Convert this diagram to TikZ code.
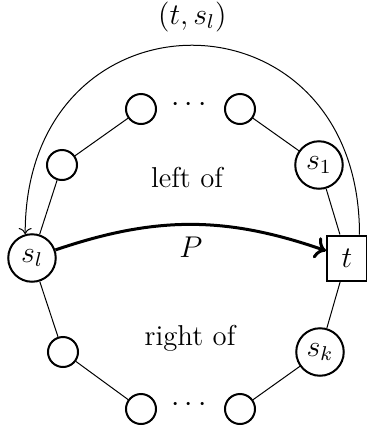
\documentclass[tikz,border=0pt]{standalone}
\usetikzlibrary{arrows.meta}
\begin{document}
\begin{tikzpicture}[x=0.4pt,y=-0.4pt,font=\fontsize{11.5}{14}\selectfont,
  vtx/.style={circle,draw,line width=0.8pt,minimum size=12pt,inner sep=0pt},
  lvtx/.style={circle,draw,line width=0.8pt,minimum size=19pt,inner sep=0pt},
  term/.style={rectangle,draw,line width=0.8pt,minimum width=16pt,minimum height=18pt,inner sep=0pt},
  edge/.style={line width=0.4pt}]
\useasboundingbox (0,0) rectangle (367,428);
\node[lvtx] (sl) at (32,258) {$s_l$};
\node[term] (t) at (347,258) {$t$};
\node[vtx] (a1) at (62,165) {};
\node[vtx] (a2) at (141,109) {};
\node[vtx] (a3) at (240,109) {};
\node[lvtx] (s1) at (319,165) {$s_1$};
\node[vtx] (b1) at (63,352) {};
\node[vtx] (b2) at (141,409) {};
\node[vtx] (b3) at (240,409) {};
\node[lvtx] (sk) at (320,352) {$s_k$};
\node (d1) at (189,105) {$\cdots$};
\node (d2) at (189,405) {$\cdots$};
\node (lo) at (187,178) {left of};
\node (ro) at (190,338) {right of};
\draw[edge] (sl) -- (a1) -- (a2);
\draw[edge] (a3) -- (s1) -- (t) -- (sk) -- (b3);
\draw[edge] (b2) -- (b1) -- (sl);
\draw[->,line width=1.2pt] (sl) to[bend left=19] node[below=1pt] (P) {$P$} (t);
\draw[->,edge] (t.62) .. controls +(0,-252) and +(0,-252) .. node[above=2pt] (lab) {$(t,s_l)$} (sl.106);
\end{tikzpicture}
\end{document}
